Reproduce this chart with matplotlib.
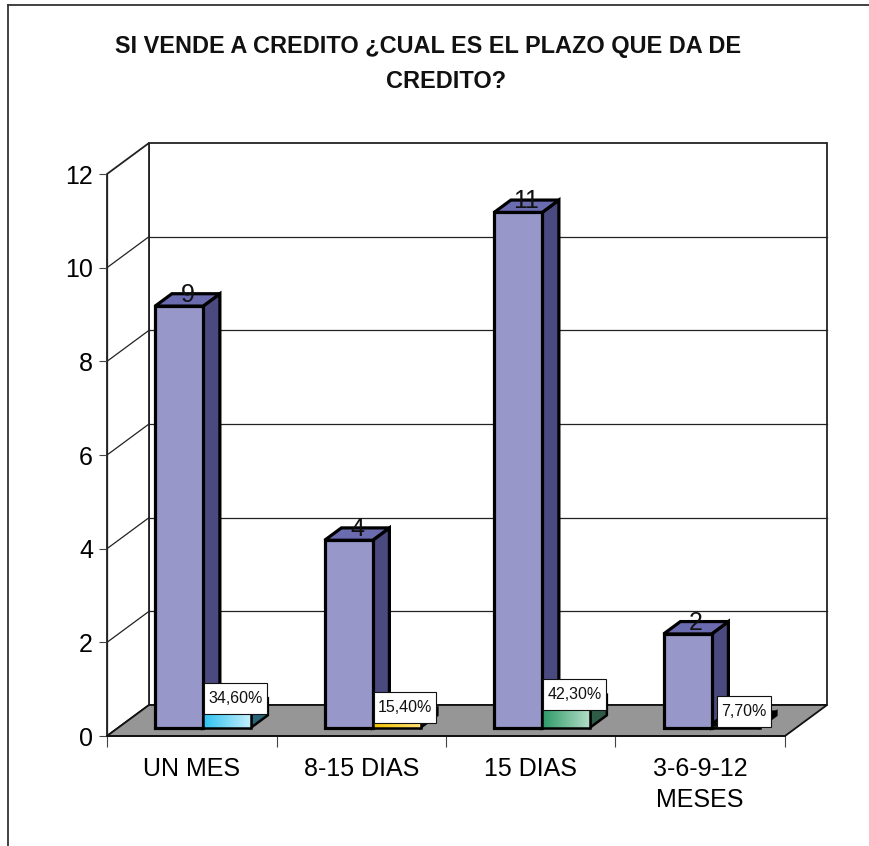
import numpy as np
import matplotlib
matplotlib.use("Agg")
import matplotlib.pyplot as plt
from matplotlib.patches import Polygon
from matplotlib.lines import Line2D
from matplotlib.path import Path
from matplotlib.colors import LinearSegmentedColormap

plt.rcParams["font.family"] = ["Liberation Sans", "DejaVu Sans"]

TITLE_1 = "SI VENDE A CREDITO ¿CUAL ES EL PLAZO QUE DA DE"
TITLE_2 = "CREDITO?"

categories = ["UN MES", "8-15 DIAS", "15 DIAS", "3-6-9-12\nMESES"]
counts = [9, 4, 11, 2]
percents = [34.6, 15.4, 42.3, 7.7]

# faces of the count bars: front, top, side
COUNT_COLORS = ("#9797C9", "#6B6BB0", "#4A4A80")
# percent bars: gradient start, gradient end, top, side
PCT_COLORS = [
    ("#2EC2F0", "#C4EEFB", "#7FD8F5", "#2A6478"),
    ("#F2C200", "#FFE27A", "#FFD84A", "#8A6E10"),
    ("#2E9A68", "#B2DCC6", "#6FBF98", "#2E5A46"),
    ("#1E1E1E", "#3A3A3A", "#2A2A2A", "#101010"),
]

W, H = 869, 846
fig = plt.figure(figsize=(W / 100, H / 100), dpi=100)

# front plane of the 3-D box, in pixels
X0, X1, Y0, Y12 = 107, 785, 736, 174
ax = fig.add_axes([X0 / W, (H - Y0) / H, (X1 - X0) / W, (Y0 - Y12) / H])
ax.set_xlim(0, 4)
ax.set_ylim(0, 12)

# depth offset of the back wall, converted into data units
DX = 42 / ((X1 - X0) / 4)
DY = 31 / ((Y0 - Y12) / 12)


def P(x, y, d):
    return (x + d * DX, y + d * DY)


def poly(pts, fc, ec="#000000", lw=1.0, z=1):
    p = Polygon(pts, closed=True, facecolor=fc, edgecolor=ec, linewidth=lw,
                joinstyle="miter", clip_on=False, zorder=z)
    ax.add_patch(p)
    return p


def seg(a, b, color="#222222", lw=0.9, z=1.5):
    ax.add_line(Line2D([a[0], b[0]], [a[1], b[1]], color=color, lw=lw,
                       clip_on=False, zorder=z))


def label_box(x0, y0, width, height, mutation_size):
    # more vertical than horizontal padding, in pixels
    ph, pv = 4, 8
    x0, y0 = x0 - ph, y0 - pv
    x1, y1 = x0 + width + 2 * ph, y0 + height + 2 * pv
    return Path([(x0, y0), (x1, y0), (x1, y1), (x0, y1), (x0, y0)], closed=True)


# walls and floor
poly([P(0, 0, 1), P(4, 0, 1), P(4, 12, 1), P(0, 12, 1)], "white", "#222222", 1.3, 1)
poly([P(0, 0, 0), P(0, 0, 1), P(0, 12, 1), P(0, 12, 0)], "white", "#222222", 1.3, 1)
for v in range(2, 12, 2):
    seg(P(0, v, 1), P(4, v, 1))
    seg(P(0, v, 0), P(0, v, 1))
poly([P(0, 0, 0), P(4, 0, 0), P(4, 0, 1), P(0, 0, 1)], "#969696", "#111111", 1.3, 2)

BW = 0.283
F0, F1 = 0.27, 0.67


def gradient_face(pts, c0, c1, z):
    patch = poly(pts, "none", "none", 0, z)
    xs = [p[0] for p in pts]
    ys = [p[1] for p in pts]
    cmap = LinearSegmentedColormap.from_list("g", [c0, c1])
    grad = np.linspace(0, 1, 64).reshape(1, -1)
    im = ax.imshow(grad, cmap=cmap, aspect="auto", zorder=z,
                   extent=(min(xs), max(xs), min(ys), max(ys)), clip_on=True)
    im.set_clip_path(patch)


def draw_bar(xl, h, front, top, side, lw, z, grad=None):
    xr = xl + BW
    fpts = [P(xl, 0, F0), P(xr, 0, F0), P(xr, h, F0), P(xl, h, F0)]
    tpts = [P(xl, h, F0), P(xr, h, F0), P(xr, h, F1), P(xl, h, F1)]
    spts = [P(xr, 0, F0), P(xr, 0, F1), P(xr, h, F1), P(xr, h, F0)]
    poly(spts, side, "#000000", lw, z)
    poly(tpts, top, "#000000", lw, z)
    if grad is not None:
        gradient_face(fpts, grad[0], grad[1], z + 0.1)
        poly(fpts, "none", "#000000", lw, z + 0.2)
    else:
        poly(fpts, front, "#000000", lw, z)


for i, (n, pct) in enumerate(zip(counts, percents)):
    c = i + 0.5
    draw_bar(c - BW, n, *COUNT_COLORS, 2.3, 3 + i)
    g0, g1, top, side = PCT_COLORS[i]
    draw_bar(c, pct / 100, g0, top, side, 1.8, 3.5 + i, grad=(g0, g1))

    ax.annotate(str(n), xy=P(c - BW / 2, n, (F0 + F1) / 2), xytext=(0, -1.5),
                textcoords="offset points", ha="center", va="baseline",
                fontsize=18, color="#111111", zorder=20, annotation_clip=False)
    label = f"{pct:.2f}%".replace(".", ",")
    ax.annotate(label, xy=P(c + BW / 2, pct / 100, (F0 + F1) / 2), xytext=(0, 4.8),
                textcoords="offset points", ha="center", va="center",
                fontsize=11.5, color="#111111", zorder=21, annotation_clip=False,
                bbox=dict(boxstyle=label_box, fc="white", ec="#111111", lw=0.8))

# axes lines and ticks
for s in ("top", "right"):
    ax.spines[s].set_visible(False)
ax.spines["left"].set_color("#222222")
ax.spines["left"].set_linewidth(0.9)
ax.spines["bottom"].set_color("#111111")
ax.spines["bottom"].set_linewidth(1.3)
ax.spines["bottom"].set_zorder(2.5)
ax.patch.set_visible(False)

ax.set_yticks(range(0, 13, 2))
ax.tick_params(axis="y", direction="out", length=6, width=0.8, color="#444444",
               labelsize=18, pad=4)
ax.set_xticks(range(5))
ax.set_xticklabels([])
ax.set_xticks([i + 0.5 for i in range(4)], minor=True)
ax.set_xticklabels(categories, minor=True, linespacing=1.38)
ax.tick_params(axis="x", which="major", direction="out", length=8, width=0.8,
               color="#444444")
ax.tick_params(axis="x", which="minor", length=0, labelsize=18, pad=15)

# titles
fig.text(428 / W, 1 - 46 / H, TITLE_1, ha="center", va="center",
         fontsize=16.9, fontweight="bold", color="#111111")
fig.text(446 / W, 1 - 81 / H, TITLE_2, ha="center", va="center",
         fontsize=16.9, fontweight="bold", color="#111111")

# chart area frame
fig.add_artist(Line2D([8 / W, 8 / W], [0, 1 - 5 / H], color="#333333", lw=1.3))
fig.add_artist(Line2D([8 / W, 1], [1 - 5 / H, 1 - 5 / H], color="#333333", lw=1.3))

fig.savefig("out.png", dpi=100)
